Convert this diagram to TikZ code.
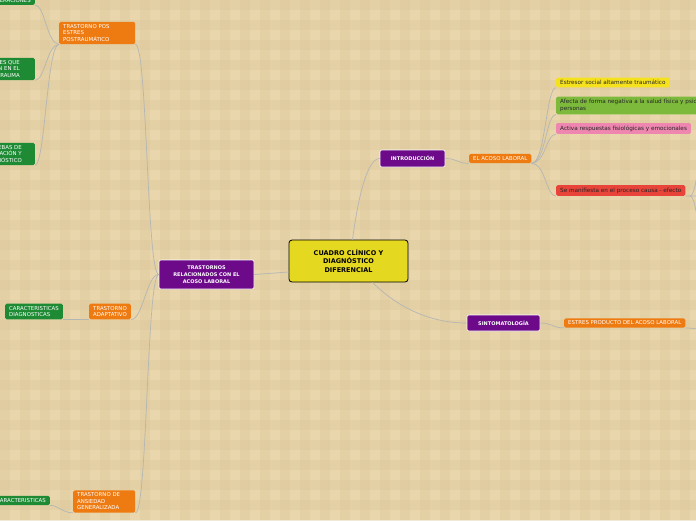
\documentclass[tikz,border=0pt]{standalone}
\usepackage{fontspec}
\setmainfont{DejaVu Sans}
\usetikzlibrary{positioning}

\begin{document}
\begin{tikzpicture}[x=1pt, y=-1pt,
  link/.style={draw=linkgray, line width=0.7pt},
  tag/.style={rounded corners=1.5pt, inner xsep=4pt, inner ysep=2.6pt, font=\fontsize{5.4}{6.5}\selectfont, align=left},
  orangetag/.style={tag, fill=mmorange, text=white},
  greentag/.style={tag, fill=mmgreen, text=white},
  leaftag/.style={tag, anchor=west, text=black!85, font=\fontsize{5.7}{6.8}\selectfont},
  topic/.style={rounded corners=2pt, fill=mmpurple, draw=white, line width=0.6pt, text=white,
    font=\bfseries\fontsize{5}{6.9}\selectfont, align=center, inner sep=1pt},
  central/.style={rounded corners=3pt, fill=mmyellow, draw=black, line width=0.8pt,
    font=\bfseries\fontsize{6.5}{8.6}\selectfont, align=center, minimum width=119pt, minimum height=42pt}
]

  % Colors
  \definecolor{bgbeige}{HTML}{E9D6AC}
  \definecolor{bgstripe}{HTML}{DCC79A}
  \definecolor{linkgray}{HTML}{B4B6B4}
  \definecolor{mmpurple}{HTML}{6C0A8A}
  \definecolor{mmorange}{HTML}{EE7A12}
  \definecolor{mmgreen}{HTML}{1E8A34}
  \definecolor{mmyellow}{HTML}{E5D820}
  \definecolor{leafyellow}{HTML}{F6E21C}
  \definecolor{leafgreen}{HTML}{7DBA3C}
  \definecolor{leafpink}{HTML}{EE86B0}
  \definecolor{leafred}{HTML}{E8443A}

  \useasboundingbox (0,0) rectangle (696,520);
  \clip (0,0) rectangle (696,520);

  % Background
  \fill[bgbeige] (0,0) rectangle (696,520);
  \foreach \s in {0,20,...,700} {
    \fill[bgstripe, opacity=0.4] (\s,0) rectangle +(10,520);
  }
  \foreach \s in {0,20,...,520} {
    \fill[bgstripe, opacity=0.4] (0,\s) rectangle +(696,10);
  }

  % Central topic
  \node[central] (cuadro) at (348.5,261) {CUADRO CLÍNICO Y\\DIAGNÓSTICO\\DIFERENCIAL};

  % Main topics
  \node[topic, minimum width=95pt, minimum height=29pt] (trast) at (206.5,274.5) {TRASTORNOS\\RELACIONADOS CON EL\\ACOSO LABORAL};
  \node[topic, minimum width=65pt, minimum height=17pt] (intro) at (412.5,158.5) {INTRODUCCIÓN};
  \node[topic, minimum width=73pt, minimum height=16pt] (sinto) at (503.5,323) {SINTOMATOLOGÍA};

  % Subtopics
  \node[orangetag, anchor=west] (acoso) at (469,158.5) {EL ACOSO LABORAL};
  \node[orangetag, anchor=west] (estres) at (564,323) {ESTRES PRODUCTO DEL ACOSO LABORAL};
  \node[orangetag, anchor=west, text width=68pt] (tpos) at (59,33) {TRASTORNO POS\\ESTRES\\POSTRAUMÁTICO};
  \node[orangetag, anchor=west] (tadap) at (89,311.5) {TRASTORNO\\ADAPTATIVO};
  \node[orangetag, anchor=west, text width=54pt] (tansi) at (73,501.5) {TRASTORNO DE\\ANSIEDAD\\GENERALIZADA};

  % Leaves of the introduction
  \node[leaftag, fill=leafyellow] (estresor) at (556,82.5) {Estresor social altamente traumático};
  \node[leaftag, fill=leafgreen] (afecta) at (556,105.5) {Afecta de forma negativa a la salud física y psicológica de las\\personas};
  \node[leaftag, fill=leafpink] (activa) at (556,128.5) {Activa respuestas fisiológicas y emocionales};
  \node[leaftag, fill=leafred] (manif) at (556,190.5) {Se manifiesta en el proceso causa - efecto};

  % Leaves of the disorders
  \node[greentag, anchor=south east, align=right] (alter) at (35,5) {ALTERACIONES};
  \node[greentag, anchor=east, align=right, inner xsep=15pt] (factor) at (35,69) {FACTORES QUE\\INFLUYEN EN EL\\TRAUMA};
  \node[greentag, anchor=east, align=right, inner xsep=13pt] (prueba) at (35,154) {PRUEBAS DE\\EVALUACIÓN Y\\DIAGNÓSTICO};
  \node[greentag, anchor=west] (cdiag) at (5,311.5) {CARACTERISTICAS\\DIAGNOSTICAS};
  \node[greentag, anchor=east] (carac) at (50,500.5) {CARACTERISTICAS};

  % Free ends leaving the picture
  \coordinate (manifhub) at (690,196);
  \coordinate (manifup) at (700,150);
  \coordinate (manifout) at (700,196);
  \coordinate (manifdown) at (700,242);
  \coordinate (estresout) at (700,329);

  % Connectors of the central topic
  \draw[link] ([yshift=-11pt]cuadro.west) -- (trast.east);
  \draw[link] ([xshift=4pt]cuadro.north) .. controls +(6,-45) and +(-12,0) .. (intro.west);
  \draw[link] ([xshift=24pt]cuadro.south) .. controls +(22,22) and +(-40,0) .. (sinto.west);

  % Connectors on the right
  \draw[link] (intro.east) .. controls +(12,0) and +(-12,0) .. (acoso.south west);
  \foreach \leaf in {estresor, afecta, activa, manif} {
    \draw[link] (acoso.south east) .. controls +(14,0) and +(-10,0) .. (\leaf.south west);
  }
  \draw[link] (manif.south east) -- (manifout);
  \draw[link] (manifhub) .. controls +(5,0) and +(-2,20) .. (manifup);
  \draw[link] (manifhub) .. controls +(5,0) and +(-2,-20) .. (manifdown);
  \draw[link] (sinto.east) .. controls +(12,0) and +(-12,0) .. (estres.south west);
  \draw[link] (estres.south east) -- (estresout);

  % Connectors on the left
  \foreach \sub in {tpos, tadap, tansi} {
    \draw[link] (trast.west) .. controls +(-12,0) and +(12,0) .. (\sub.south east);
  }
  \foreach \leaf in {alter, factor, prueba} {
    \draw[link] (tpos.south west) .. controls +(-12,0) and +(10,0) .. (\leaf.south east);
  }
  \draw[link] (tadap.south west) -- (cdiag.south east);
  \draw[link] (tansi.south west) .. controls +(-10,0) and +(8,0) .. (carac.south east);

\end{tikzpicture}
\end{document}
